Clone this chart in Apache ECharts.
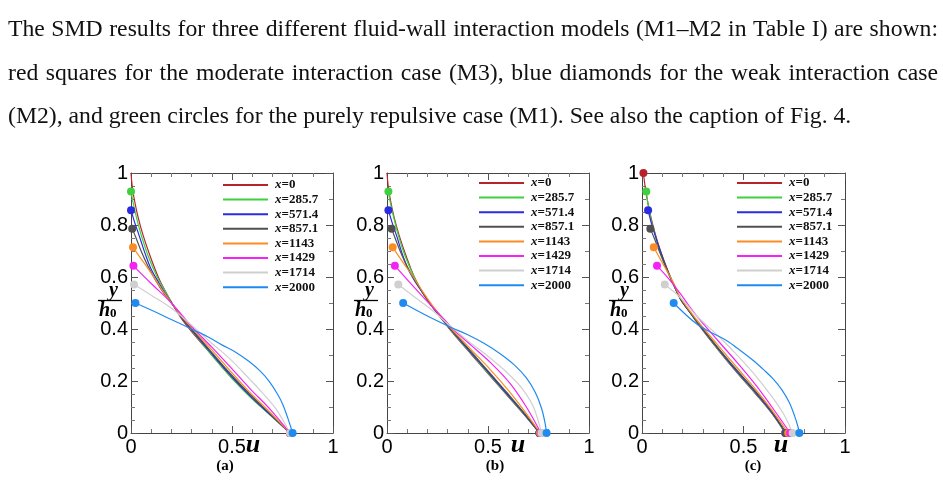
<!DOCTYPE html>
<html>
<head>
<meta charset="utf-8">
<script src="https://cdn.jsdelivr.net/npm/echarts@6/dist/echarts.min.js"></script>
<style>
  body { margin: 0; background: #fff; }
  #chart { width: 943px; height: 483px; }
</style>
</head>
<body>
<div id="chart"></div>
<script>
// legend names and colours
const names = ['x=0', 'x=285.7', 'x=571.4', 'x=857.1', 'x=1143', 'x=1429', 'x=1714', 'x=2000'];
const colors = ['#b8232a', '#3fcf3f', '#2b2be0', '#505050', '#fb8c24', '#f522f5', '#cfcfcf', '#1f8bf0'];

// velocity profiles [u, y/h0], panel (a)
const curvesA = [
  [[0,1],[0.006,0.95],[0.016,0.9],[0.035,0.83],[0.06,0.76],[0.095,0.68],[0.135,0.6],[0.17,0.545],[0.21,0.49],[0.25,0.44],[0.3,0.39],[0.4,0.3],[0.49,0.22],[0.59,0.14],[0.69,0.07],[0.787,0]],
  [[0,0.929],[0.012,0.88],[0.03,0.82],[0.055,0.75],[0.09,0.67],[0.13,0.6],[0.17,0.545],[0.21,0.49],[0.25,0.445],[0.3,0.395],[0.4,0.3],[0.49,0.218],[0.59,0.138],[0.69,0.068],[0.787,0]],
  [[0,0.857],[0.018,0.81],[0.04,0.76],[0.07,0.69],[0.1,0.63],[0.14,0.575],[0.175,0.53],[0.21,0.49],[0.25,0.445],[0.3,0.397],[0.4,0.305],[0.49,0.225],[0.59,0.143],[0.69,0.07],[0.787,0]],
  [[0.006,0.786],[0.025,0.75],[0.05,0.7],[0.085,0.64],[0.12,0.59],[0.165,0.535],[0.21,0.49],[0.25,0.447],[0.3,0.4],[0.4,0.31],[0.49,0.23],[0.59,0.148],[0.69,0.073],[0.787,0]],
  [[0.01,0.714],[0.05,0.67],[0.1,0.615],[0.15,0.555],[0.2,0.5],[0.25,0.45],[0.3,0.405],[0.4,0.32],[0.49,0.24],[0.59,0.155],[0.69,0.078],[0.787,0]],
  [[0.012,0.643],[0.1,0.575],[0.2,0.5],[0.3,0.41],[0.4,0.33],[0.49,0.255],[0.59,0.17],[0.69,0.09],[0.787,0]],
  [[0.015,0.571],[0.1,0.53],[0.2,0.48],[0.3,0.415],[0.4,0.345],[0.49,0.285],[0.59,0.205],[0.65,0.155],[0.72,0.09],[0.787,0]],
  [[0.022,0.5],[0.15,0.455],[0.293,0.402],[0.38,0.37],[0.452,0.338],[0.52,0.31],[0.585,0.275],[0.64,0.238],[0.685,0.198],[0.725,0.15],[0.752,0.109],[0.775,0.06],[0.79,0.025],[0.8,0]]
];

// panel (b)
const curvesB = [
  [[0,1],[0.006,0.95],[0.016,0.9],[0.035,0.83],[0.06,0.76],[0.095,0.68],[0.135,0.6],[0.18,0.535],[0.23,0.48],[0.28,0.43],[0.32,0.39],[0.42,0.3],[0.51,0.22],[0.6,0.14],[0.68,0.07],[0.755,0]],
  [[0.007,0.929],[0.018,0.88],[0.036,0.82],[0.06,0.75],[0.095,0.67],[0.135,0.6],[0.18,0.535],[0.23,0.48],[0.28,0.43],[0.32,0.392],[0.42,0.302],[0.51,0.222],[0.6,0.142],[0.68,0.071],[0.755,0]],
  [[0.007,0.857],[0.025,0.81],[0.047,0.76],[0.075,0.69],[0.105,0.63],[0.145,0.575],[0.19,0.525],[0.23,0.48],[0.28,0.432],[0.32,0.395],[0.42,0.305],[0.51,0.226],[0.6,0.145],[0.68,0.073],[0.755,0]],
  [[0.023,0.786],[0.04,0.75],[0.065,0.7],[0.1,0.64],[0.14,0.585],[0.185,0.53],[0.23,0.48],[0.28,0.433],[0.32,0.397],[0.42,0.31],[0.51,0.23],[0.6,0.15],[0.68,0.076],[0.755,0]],
  [[0.028,0.714],[0.08,0.655],[0.13,0.6],[0.18,0.54],[0.23,0.485],[0.28,0.437],[0.32,0.4],[0.42,0.318],[0.51,0.245],[0.6,0.165],[0.68,0.085],[0.758,0]],
  [[0.039,0.643],[0.1,0.59],[0.17,0.53],[0.23,0.48],[0.28,0.44],[0.32,0.405],[0.42,0.335],[0.52,0.265],[0.61,0.19],[0.69,0.1],[0.762,0]],
  [[0.056,0.571],[0.15,0.515],[0.23,0.468],[0.3,0.42],[0.4,0.355],[0.5,0.295],[0.6,0.228],[0.67,0.17],[0.725,0.1],[0.765,0]],
  [[0.08,0.5],[0.2,0.45],[0.315,0.407],[0.4,0.378],[0.48,0.345],[0.56,0.305],[0.63,0.262],[0.69,0.212],[0.735,0.155],[0.765,0.095],[0.782,0.04],[0.79,0]]
];

// panel (c)
const curvesC = [
  [[0.007,1],[0.015,0.95],[0.03,0.88],[0.05,0.81],[0.075,0.74],[0.105,0.67],[0.14,0.6],[0.17,0.55],[0.19,0.515],[0.24,0.46],[0.28,0.415],[0.38,0.315],[0.47,0.23],[0.56,0.15],[0.64,0.075],[0.705,0]],
  [[0.021,0.929],[0.03,0.88],[0.045,0.82],[0.065,0.76],[0.09,0.69],[0.12,0.63],[0.155,0.57],[0.19,0.515],[0.24,0.46],[0.28,0.417],[0.38,0.317],[0.47,0.232],[0.56,0.152],[0.64,0.076],[0.707,0]],
  [[0.03,0.857],[0.045,0.81],[0.065,0.76],[0.09,0.7],[0.12,0.635],[0.155,0.572],[0.19,0.515],[0.24,0.46],[0.28,0.418],[0.38,0.32],[0.47,0.235],[0.56,0.155],[0.64,0.078],[0.708,0]],
  [[0.041,0.786],[0.06,0.75],[0.085,0.7],[0.115,0.645],[0.15,0.58],[0.19,0.515],[0.24,0.462],[0.28,0.42],[0.38,0.323],[0.47,0.24],[0.56,0.16],[0.64,0.082],[0.71,0]],
  [[0.058,0.714],[0.1,0.655],[0.15,0.585],[0.19,0.52],[0.24,0.465],[0.28,0.425],[0.38,0.332],[0.47,0.25],[0.56,0.168],[0.64,0.088],[0.72,0]],
  [[0.074,0.643],[0.13,0.595],[0.19,0.535],[0.24,0.48],[0.28,0.44],[0.38,0.35],[0.47,0.27],[0.56,0.185],[0.64,0.1],[0.73,0]],
  [[0.112,0.571],[0.19,0.52],[0.27,0.45],[0.38,0.37],[0.48,0.29],[0.56,0.22],[0.64,0.14],[0.7,0.07],[0.742,0]],
  [[0.156,0.5],[0.268,0.42],[0.345,0.385],[0.416,0.356],[0.48,0.32],[0.548,0.279],[0.6,0.243],[0.646,0.208],[0.69,0.165],[0.725,0.118],[0.752,0.065],[0.768,0.025],[0.775,0]]
];

const panels = [curvesA, curvesB, curvesC];
const panelTags = ['(a)', '(b)', '(c)'];

// paragraph above the figure
const paraLines = [
  'The SMD results for three different fluid-wall interaction models (M1\u2013M2 in Table I) are shown:',
  'red squares for the moderate interaction case (M3), blue diamonds for the weak interaction case',
  '(M2), and green circles for the purely repulsive case (M1). See also the caption of Fig. 4.'
];

// layout
const gridLeft = [131, 387, 642];
const gridWidth = [202, 202, 203];
const gridTop = 173, gridHeight = 260;
const legendLeft = [223, 479, 737];
const legendTop = [178.5, 176.5, 176.5];
const uLabelX = [253, 518, 781];
const tagX = [225, 495, 753];
const topDot = [false, false, true];   // x=0 top marker only drawn in (c)

const serif = '"Liberation Serif", "DejaVu Serif", serif';
const sans = '"Liberation Sans", Arial, sans-serif';

const chart = echarts.init(document.getElementById('chart'), null, { renderer: 'canvas' });

const grid = [], xAxis = [], yAxis = [], series = [], legend = [], graphic = [];

panels.forEach((curves, p) => {
  grid.push({ left: gridLeft[p], top: gridTop, width: gridWidth[p], height: gridHeight });

  const line = { show: true, onZero: false, lineStyle: { color: '#444', width: 1 } };
  const tick = { inside: true, length: 7, lineStyle: { color: '#555' } };
  const minor = n => ({ show: true, splitNumber: n, length: 4, lineStyle: { color: '#777' } });

  xAxis.push({
    gridIndex: p, type: 'value', min: 0, max: 1, interval: 0.5, position: 'bottom',
    axisLine: line, axisTick: tick, minorTick: minor(5), splitLine: { show: false },
    axisLabel: { fontSize: 20, color: '#000', fontFamily: sans, margin: 4, formatter: v => String(v) }
  });
  xAxis.push({
    gridIndex: p, type: 'value', min: 0, max: 1, interval: 0.5, position: 'top',
    axisLine: line, axisTick: tick, minorTick: minor(5), splitLine: { show: false },
    axisLabel: { show: false }
  });
  yAxis.push({
    gridIndex: p, type: 'value', min: 0, max: 1, interval: 0.2, position: 'left',
    axisLine: line, axisTick: tick, minorTick: minor(4), splitLine: { show: false },
    axisLabel: { fontSize: 20, color: '#000', fontFamily: sans, margin: 3, formatter: v => String(+v.toFixed(1)) }
  });
  yAxis.push({
    gridIndex: p, type: 'value', min: 0, max: 1, interval: 0.2, position: 'right',
    axisLine: line, axisTick: tick, minorTick: minor(2), splitLine: { show: false },
    axisLabel: { show: false }
  });

  curves.forEach((pts, k) => {
    const last = pts.length - 1;
    series.push({
      name: names[k], type: 'line', xAxisIndex: 2 * p, yAxisIndex: 2 * p,
      data: pts, smooth: 0.35, showSymbol: true, symbol: 'circle',
      symbolSize: (v, prm) => {
        if (prm.dataIndex === last) return 8;
        if (prm.dataIndex === 0) return (k === 0 && !topDot[p]) ? 0 : 8;
        return 0;
      },
      itemStyle: { color: colors[k] },
      lineStyle: { color: colors[k], width: 1.2 },
      emphasis: { disabled: true }
    });
  });

  legend.push({
    orient: 'vertical', left: legendLeft[p], top: legendTop[p], padding: 0,
    itemWidth: 45, itemHeight: 2, itemGap: 1.6, icon: 'rect',
    data: names,
    formatter: n => '{i|x}{r|' + n.slice(1) + '}',
    textStyle: {
      fontFamily: serif, fontSize: 13, lineHeight: 13, color: '#111', padding: [0, 0, 0, 2],
      rich: {
        i: { fontFamily: serif, fontSize: 13, fontStyle: 'italic', fontWeight: 'bold', color: '#111' },
        r: { fontFamily: serif, fontSize: 13, fontWeight: 'bold', color: '#111' }
      }
    }
  });

  // y/h0 fraction label
  const L = gridLeft[p];
  graphic.push({
    type: 'text', left: L - 22, top: 281,
    style: { text: 'y', font: 'italic bold 20px ' + serif, fill: '#000' }
  });
  graphic.push({
    type: 'line', shape: { x1: L - 33, y1: 300.5, x2: L - 9, y2: 300.5 },
    style: { stroke: '#000', lineWidth: 1.3 }
  });
  graphic.push({
    type: 'text', left: L - 32, top: 301,
    style: {
      text: '{h|h}{s|0}', fill: '#000',
      rich: {
        h: { font: 'italic bold 20px ' + serif, fill: '#000' },
        s: { font: 'bold 13px ' + serif, fill: '#000', padding: [6, 0, 0, 0] }
      }
    }
  });
  graphic.push({
    type: 'text', x: uLabelX[p], y: 445,
    style: { text: 'u', font: 'italic bold 26px ' + serif, fill: '#000', align: 'center', verticalAlign: 'middle' }
  });
  graphic.push({
    type: 'text', x: tagX[p], y: 466,
    style: { text: panelTags[p], font: 'bold 15px ' + serif, fill: '#000', align: 'center', verticalAlign: 'middle' }
  });
});

// paragraph: font size fitted to the last line, first two lines justified
const ctx = document.createElement('canvas').getContext('2d');
const fontFor = s => s + 'px ' + serif;
ctx.font = fontFor(20);
const fs = 20 * 844 / ctx.measureText(paraLines[2]).width;
ctx.font = fontFor(fs);
const paraY = [30, 74, 117];
paraLines.forEach((txt, i) => {
  if (i === 2) {
    graphic.push({ type: 'text', x: 8, y: paraY[i], style: { text: txt, font: fontFor(fs), fill: '#111', verticalAlign: 'middle' } });
    return;
  }
  const words = txt.split(' ');
  const widths = words.map(w => ctx.measureText(w).width);
  const gap = (930 - widths.reduce((a, b) => a + b, 0)) / (words.length - 1);
  let x = 8;
  words.forEach((w, j) => {
    graphic.push({ type: 'text', x: x, y: paraY[i], style: { text: w, font: fontFor(fs), fill: '#111', verticalAlign: 'middle' } });
    x += widths[j] + gap;
  });
});

chart.setOption({
  animation: false,
  backgroundColor: '#fff',
  grid, xAxis, yAxis, series, legend, graphic
});
</script>
</body>
</html>
